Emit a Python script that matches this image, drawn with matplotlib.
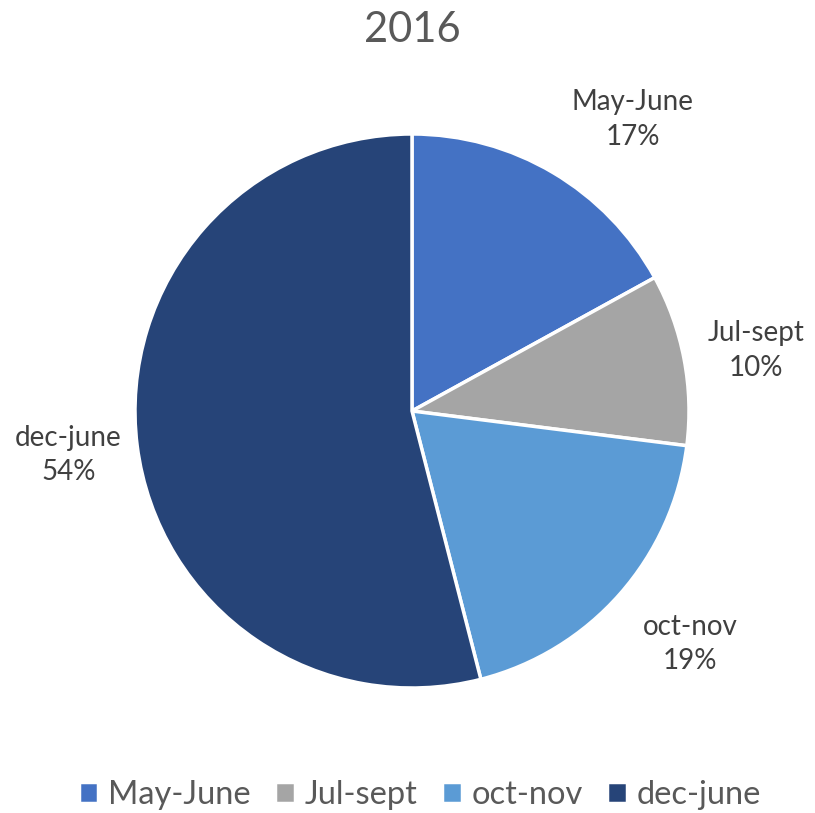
import matplotlib
matplotlib.use("Agg")
import matplotlib.pyplot as plt
import numpy as np

plt.rcParams['font.family'] = ['Lato', 'DejaVu Sans']

# data
periods = ['May-June', 'Jul-sept', 'oct-nov', 'dec-june']
shares = [17, 10, 19, 54]
colors = ['#4472C4', '#A5A5A5', '#5B9BD5', '#264478']
title = '2016'

fig = plt.figure(figsize=(8.15, 8.13), dpi=100)
# pie centre ~ (412, 411) px from top-left, radius ~277 px
cx, cy, r = 412, 813 - 411, 277
ax = fig.add_axes([(cx - r) / 815, (cy - r) / 813, 2 * r / 815, 2 * r / 813])

labels = ['%s\n%d%%' % (p, s) for p, s in zip(periods, shares)]
wedges, texts = ax.pie(shares, labels=labels, colors=colors, startangle=90,
                       counterclock=False, radius=1.0, labeldistance=1.28,
                       wedgeprops=dict(edgecolor='white', linewidth=2.5),
                       textprops=dict(fontsize=20, color='#404040'))
# excel "best fit" label placement: small shift of angle / distance per label
dang = [-6.5, -0.8, 1.4, 0.1]
dist = [1.32, 1.26, 1.31, 1.25]
for w, t, da, d in zip(wedges, texts, dang, dist):
	a = np.radians(0.5 * (w.theta1 + w.theta2) + da)
	t.set_position((d * np.cos(a), d * np.sin(a)))
	t.set_ha('center')
	t.set_va('center')
	t.set_linespacing(1.4)
ax.set_xlim(-1, 1)
ax.set_ylim(-1, 1)
ax.set_aspect('equal')

fig.text(412 / 815, 1 - 30 / 813, title, ha='center', va='center',
         fontsize=30, color='#595959')

leg = fig.legend(wedges, periods, loc='center', ncol=4,
                 bbox_to_anchor=(420 / 815, 1 - 795 / 813), frameon=False,
                 fontsize=23.5, handlelength=0.6, handleheight=0.6,
                 handletextpad=0.3, columnspacing=0.75)
for t in leg.get_texts():
	t.set_color('#595959')

fig.savefig('out.png', dpi=100)
